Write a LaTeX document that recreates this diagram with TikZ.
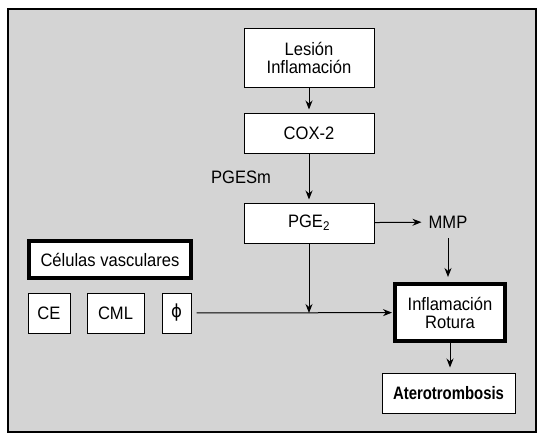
\documentclass[tikz,border=0pt]{standalone}
\usepackage{fontspec}
\usepackage{graphicx}
\setmainfont{Liberation Sans}[FakeStretch=0.92]
\newfontfamily\greekfont{DejaVu Sans}[FakeStretch=0.92]
\usetikzlibrary{arrows.meta}
\definecolor{panelgray}{RGB}{212,212,212}

\begin{document}
\begin{tikzpicture}[x=1pt, y=-1pt,
  every node/.style={font=\fontsize{18}{18}\selectfont},
  box/.style={draw, fill=white, line width=1pt, inner sep=0pt, align=center},
  thickbox/.style={box, line width=4pt},
  arr/.style={-{Stealth[length=9pt,width=7pt]}, line width=1pt, shorten >=3pt}]
  \useasboundingbox (0,0) rectangle (545,437);

  % panel
  \draw[fill=panelgray, line width=1.5pt] (8,9) rectangle (536,432);

  % main chain
  \node[box, minimum width=130pt, minimum height=59pt] (lesion) at (309,57.5) {Lesión\\Inflamación};
  \node[box, minimum width=130pt, minimum height=40pt] (cox) at (309,133) {COX-2};
  \node[box, minimum width=130pt, minimum height=40pt] (pge) at (309,223) {PGE\textsubscript{2}};
  \node (pgesm) at (241,177) {PGESm};
  \node[inner sep=4pt] (mmp) at (448,222) {MMP};

  % vascular cells
  \node[thickbox, minimum width=162pt, minimum height=37pt] (cel) at (110,259.5) {Células vasculares};
  \node[box, minimum width=42pt, minimum height=40pt] (ce) at (49,313) {CE};
  \node[box, minimum width=57pt, minimum height=40pt] (cml) at (115.5,313) {CML};
  \node[box, minimum width=29pt, minimum height=40pt] (phi) at (176.5,313) {\greekfont ϕ};

  % outcome
  \node[thickbox, minimum width=110pt, minimum height=57pt] (infl) at (450,312.5) {Inflamación\\Rotura};
  \node[box, minimum width=133pt, minimum height=40pt] (atero) at (448.5,393) {\textbf{\scalebox{0.9}[1]{Aterotrombosis}}};

  \coordinate (join) at (pge.south |- phi.east);

  % arrows
  \draw[arr] (lesion) -- (cox);
  \draw[arr] (cox) -- (pge);
  \draw[arr] (pge) -- (mmp);
  \draw[arr, shorten <=6pt, shorten >=5pt] (mmp.south) -- (mmp.south |- infl.north);
  \draw[arr, shorten >=0pt] (pge) -- (join);
  \draw[arr, shorten <=5pt, shorten >=1pt] (phi) -- (infl);
  \draw[arr, shorten >=5pt] (infl.south) -- (infl.south |- atero.north);
\end{tikzpicture}
\end{document}
